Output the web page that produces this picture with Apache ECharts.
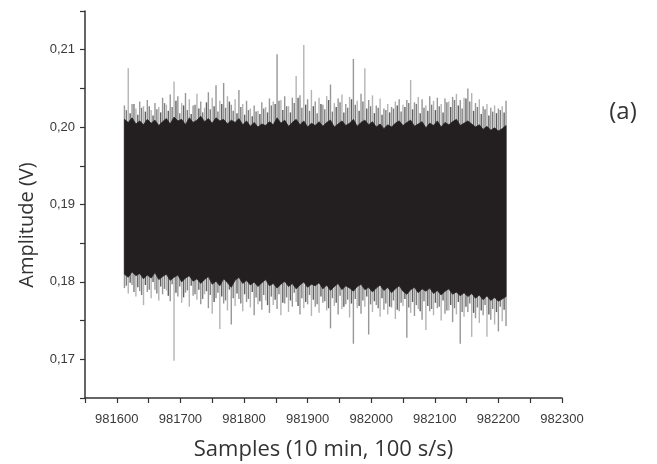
<!DOCTYPE html>
<html>
<head>
<meta charset="utf-8">
<script src="https://cdn.jsdelivr.net/npm/echarts@6/dist/echarts.min.js"></script>
<style>html,body{margin:0;padding:0;background:#fff;}#c{width:657px;height:464px;}</style>
</head>
<body>
<div id="c"></div>
<script>
// decimated sample grid (every 6th sample); mid blocks sit half a step later
const sampleStart = 981612;
const sampleStep = 6;
// peak (gray spike) maxima per block
const topOuter = [
0.2028,0.2076,0.2030,0.2024,0.2033,0.2027,0.2035,0.2022,0.2031,0.2026,
0.2038,0.2029,0.2042,0.2059,0.2040,0.2031,0.2044,0.2036,0.2028,0.2043,
0.2033,0.2025,0.2045,0.2038,0.2054,0.2034,0.2057,0.2040,0.2029,0.2036,
0.2048,0.2030,0.2034,0.2024,0.2028,0.2021,0.2032,0.2026,0.2037,0.2033,
0.2094,0.2035,0.2040,0.2027,0.2038,0.2066,0.2041,0.2106,0.2036,0.2048,
0.2033,0.2038,0.2029,0.2040,0.2055,0.2031,0.2037,0.2042,0.2030,0.2039,
0.2088,0.2034,0.2043,0.2076,0.2035,0.2041,0.2028,0.2037,0.2024,0.2030,
0.2026,0.2033,0.2036,0.2029,0.2035,0.2061,0.2032,0.2039,0.2036,0.2028,
0.2040,0.2034,0.2038,0.2030,0.2037,0.2033,0.2039,0.2043,0.2035,0.2038,
0.2050,0.2044,0.2031,0.2036,0.2027,0.2030,0.2025,0.2028,0.2024,0.2027,
0.2034];
// dense (black) upper edge per block
const topInner = [
0.2010,0.2006,0.2012,0.2004,0.2008,0.2003,0.2010,0.2005,0.2009,0.2002,
0.2007,0.2011,0.2004,0.2013,0.2008,0.2010,0.2003,0.2012,0.2006,0.2009,
0.2014,0.2007,0.2011,0.2005,0.2012,0.2008,0.2010,0.2004,0.2009,0.2006,
0.2011,0.2003,0.2008,0.2001,0.2006,0.2000,0.2004,0.2002,0.2007,0.2003,
0.2012,0.2005,0.2009,0.2001,0.2006,0.2010,0.2003,0.2008,0.2000,0.2005,
0.2002,0.2007,0.2001,0.2006,0.2009,0.2000,0.2004,0.2008,0.2002,0.2005,
0.2010,0.2001,0.2006,0.2009,0.2003,0.2007,0.2000,0.2004,0.1998,0.2003,
0.2000,0.2005,0.2008,0.2002,0.2006,0.2009,0.2001,0.2004,0.2007,0.1999,
0.2005,0.2002,0.2008,0.2000,0.2006,0.2003,0.2007,0.2010,0.2002,0.2005,
0.2008,0.2004,0.2000,0.2003,0.1997,0.2001,0.1996,0.1999,0.1995,0.1998,
0.2002];
// dense (black) lower edge per block
const bottomInner = [
0.1810,0.1806,0.1813,0.1808,0.1811,0.1804,0.1809,0.1805,0.1812,0.1803,
0.1807,0.1810,0.1802,0.1806,0.1809,0.1800,0.1805,0.1808,0.1801,0.1804,
0.1798,0.1803,0.1807,0.1797,0.1801,0.1795,0.1804,0.1799,0.1793,0.1802,
0.1806,0.1798,0.1802,0.1796,0.1800,0.1794,0.1799,0.1803,0.1795,0.1798,
0.1792,0.1797,0.1801,0.1794,0.1798,0.1791,0.1796,0.1800,0.1793,0.1797,
0.1795,0.1799,0.1791,0.1796,0.1789,0.1794,0.1798,0.1790,0.1795,0.1792,
0.1788,0.1794,0.1797,0.1790,0.1793,0.1787,0.1792,0.1796,0.1789,0.1793,
0.1786,0.1791,0.1795,0.1788,0.1784,0.1790,0.1793,0.1786,0.1791,0.1788,
0.1792,0.1785,0.1789,0.1783,0.1788,0.1791,0.1784,0.1787,0.1782,0.1786,
0.1781,0.1785,0.1779,0.1783,0.1777,0.1782,0.1776,0.1780,0.1775,0.1778,
0.1781];
// peak (gray spike) minima per block
const bottomOuter = [
0.1792,0.1785,0.1796,0.1781,0.1788,0.1770,0.1787,0.1779,0.1790,0.1776,
0.1784,0.1789,0.1775,0.1698,0.1781,0.1773,0.1786,0.1768,0.1782,0.1777,
0.1771,0.1784,0.1766,0.1759,0.1779,0.1739,0.1772,0.1763,0.1745,0.1769,
0.1778,0.1762,0.1774,0.1767,0.1757,0.1771,0.1764,0.1776,0.1760,0.1770,
0.1765,0.1757,0.1772,0.1761,0.1768,0.1774,0.1758,0.1766,0.1771,0.1756,
0.1768,0.1760,0.1773,0.1763,0.1740,0.1769,0.1758,0.1765,0.1771,0.1754,
0.1720,0.1766,0.1759,0.1768,0.1732,0.1761,0.1770,0.1755,0.1764,0.1758,
0.1767,0.1752,0.1762,0.1769,0.1728,0.1760,0.1756,0.1765,0.1751,0.1738,
0.1762,0.1757,0.1766,0.1750,0.1759,0.1763,0.1748,0.1758,0.1720,0.1755,
0.1761,0.1729,0.1753,0.1747,0.1757,0.1729,0.1751,0.1745,0.1736,0.1749,
0.1743];
// secondary (darker) spike maxima, between the blocks above
const topMid = [
0.2022,0.2018,0.2030,0.2016,0.2025,0.2020,0.2027,0.2015,0.2023,0.2019,
0.2031,0.2021,0.2026,0.2034,0.2018,0.2028,0.2022,0.2017,0.2029,0.2024,
0.2019,0.2032,0.2023,0.2027,0.2020,0.2030,0.2025,0.2033,0.2021,0.2018,
0.2026,0.2016,0.2022,0.2014,0.2020,0.2017,0.2024,0.2019,0.2028,0.2030,
0.2034,0.2022,0.2027,0.2019,0.2031,0.2038,0.2025,0.2029,0.2021,0.2027,
0.2018,0.2030,0.2023,0.2035,0.2020,0.2026,0.2032,0.2019,0.2025,0.2036,
0.2029,0.2021,0.2033,0.2024,0.2027,0.2018,0.2025,0.2016,0.2022,0.2019,
0.2024,0.2028,0.2020,0.2026,0.2031,0.2023,0.2030,0.2018,0.2025,0.2021,
0.2029,0.2022,0.2027,0.2019,0.2032,0.2026,0.2035,0.2028,0.2024,0.2037,
0.2033,0.2021,0.2026,0.2017,0.2023,0.2015,0.2020,0.2018,0.2022,0.2019];
// secondary (darker) spike minima, between the blocks above
const bottomMid = [
0.1795,0.1799,0.1787,0.1793,0.1783,0.1796,0.1790,0.1800,0.1785,0.1794,
0.1791,0.1782,0.1797,0.1786,0.1794,0.1780,0.1789,0.1795,0.1784,0.1790,
0.1778,0.1788,0.1783,0.1774,0.1786,0.1781,0.1776,0.1790,0.1779,0.1785,
0.1772,0.1784,0.1778,0.1787,0.1780,0.1775,0.1783,0.1770,0.1781,0.1777,
0.1784,0.1773,0.1780,0.1776,0.1786,0.1769,0.1779,0.1774,0.1783,0.1777,
0.1771,0.1781,0.1775,0.1766,0.1779,0.1773,0.1782,0.1768,0.1777,0.1772,
0.1778,0.1769,0.1776,0.1781,0.1771,0.1775,0.1766,0.1779,0.1772,0.1768,
0.1776,0.1764,0.1773,0.1778,0.1767,0.1774,0.1770,0.1762,0.1775,0.1769,
0.1765,0.1773,0.1768,0.1776,0.1763,0.1770,0.1766,0.1774,0.1761,0.1768,
0.1772,0.1760,0.1767,0.1763,0.1770,0.1758,0.1765,0.1761,0.1768,0.1764];
const xTitle = 'Samples (10 min, 100 s/s)';
const yTitle = 'Amplitude (V)';
const panelLabel = '(a)';

const data = topOuter.map((v, i) => [sampleStart + i * sampleStep, bottomOuter[i], bottomInner[i], topInner[i], v]);
const midData = topMid.map((v, i) => [sampleStart + sampleStep / 2 + i * sampleStep, bottomMid[i], v]);

const chart = echarts.init(document.getElementById('c'));
const axisFont = {fontFamily: 'Liberation Sans', fontSize: 13, color: '#3a3a3a'};
function spike(stroke, width, loDim, hiDim) {
  return function (params, api) {
    const x = api.value(0);
    const lo = api.coord([x, api.value(loDim)]);
    const hi = api.coord([x, api.value(hiDim)]);
    return {type: 'line', shape: {x1: hi[0], y1: hi[1], x2: lo[0], y2: lo[1]},
      style: {stroke: stroke(params.dataIndex), lineWidth: width}};
  };
}
chart.setOption({
  animation: false,
  backgroundColor: '#fff',
  grid: {left: 85, right: 95, top: 11, bottom: 66, containLabel: false, outerBoundsMode: 'none'},
  xAxis: {
    type: 'value', min: 981550, max: 982300, interval: 50,
    axisLine: {show: true, lineStyle: {color: '#333', width: 1.5}},
    axisTick: {show: true, length: 5, lineStyle: {color: '#333', width: 1.2}},
    splitLine: {show: false},
    axisLabel: Object.assign({margin: 15, showMinLabel: true, showMaxLabel: true,
      formatter: v => (Math.round(v) % 100 === 0 ? String(Math.round(v)) : '')}, axisFont),
    name: xTitle, nameLocation: 'middle', nameGap: 41,
    nameTextStyle: {fontFamily: 'Open Sans', fontSize: 22, color: '#333'}
  },
  yAxis: {
    type: 'value', min: 0.165, max: 0.215, interval: 0.005,
    axisLine: {show: true, lineStyle: {color: '#333', width: 1.5}},
    axisTick: {show: true, length: 5, lineStyle: {color: '#333', width: 1.2}},
    splitLine: {show: false},
    axisLabel: Object.assign({margin: 10,
      formatter: v => (Math.abs(v * 100 - Math.round(v * 100)) < 1e-6 ? v.toFixed(2).replace('.', ',') : '')}, axisFont)
  },
  graphic: [
    {type: 'text', x: 27, y: 225, rotation: Math.PI / 2,
     style: {text: yTitle, font: '20px "Open Sans"', fill: '#333', align: 'center', verticalAlign: 'middle'}},
    {type: 'text', x: 623, y: 112,
     style: {text: panelLabel, font: '24px "Open Sans"', fill: '#333', align: 'center', verticalAlign: 'middle'}}
  ],
  series: [{
    type: 'custom',
    data: data,
    encode: {x: 0, y: [1, 4]},
    renderItem: spike(i => (i % 2 ? '#b4b4b4' : '#979797'), 1.4, 1, 4)
  }, {
    type: 'custom',
    data: midData,
    encode: {x: 0, y: [1, 2]},
    renderItem: spike(i => (i % 2 ? '#5e5e5e' : '#7c7c7c'), 1.4, 1, 2)
  }, {
    type: 'custom',
    data: data,
    encode: {x: 0, y: [2, 3]},
    renderItem: function (params, api) {
      if (params.dataIndex !== 0) return {type: 'group', children: []};
      const pts = [];
      for (let i = 0; i < data.length; i++) pts.push(api.coord([data[i][0], data[i][3]]));
      for (let i = data.length - 1; i >= 0; i--) pts.push(api.coord([data[i][0], data[i][2]]));
      return {type: 'polygon', shape: {points: pts}, style: {fill: '#231f20', stroke: '#231f20', lineWidth: 0.8}};
    }
  }]
});
</script>
</body>
</html>
